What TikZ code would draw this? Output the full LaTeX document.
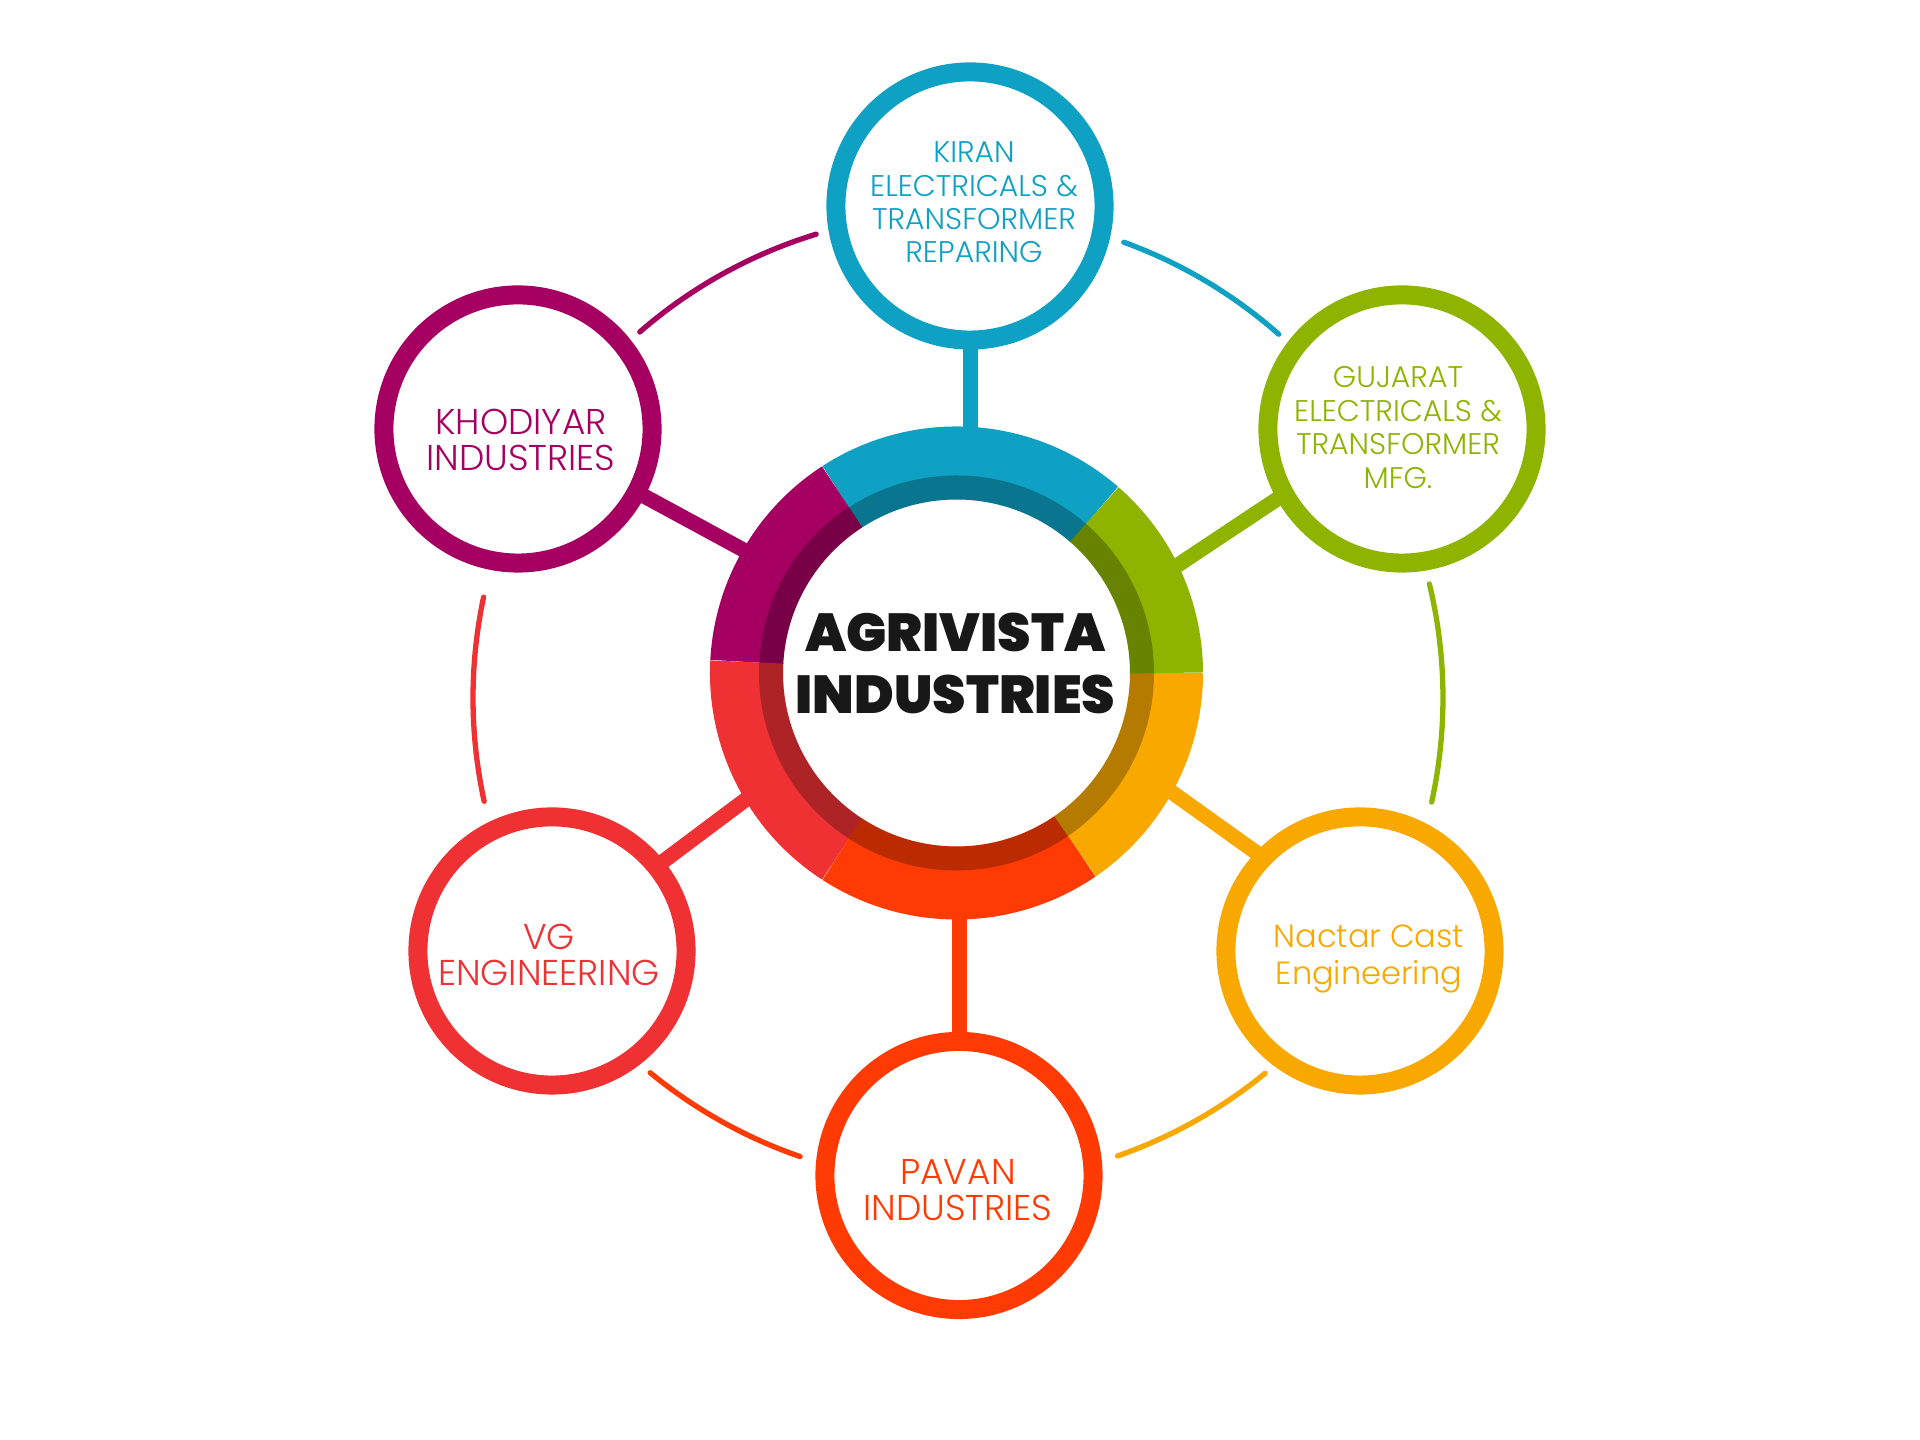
\documentclass[tikz,border=0pt]{standalone}
\usepackage{fontspec}
\usepackage{tikz}
\usetikzlibrary{positioning}
\newfontfamily\satfont{Poppins Light}
\newfontfamily\hubfont{Poppins Black}
\definecolor{kiranblue}{RGB}{14,161,196}
\definecolor{gujaratgreen}{RGB}{142,180,0}
\definecolor{nactarorange}{RGB}{249,168,0}
\definecolor{pavanred}{RGB}{255,59,3}
\definecolor{vgred}{RGB}{239,49,52}
\definecolor{khodiyarpurple}{RGB}{165,0,97}
\definecolor{hubink}{RGB}{24,24,24}

\begin{document}
\begin{tikzpicture}[x=0.01cm, y=0.01cm,
    sat/.style={circle, draw, fill=white, line width=0.19cm, minimum size=2.68cm, inner sep=0pt, outer sep=0pt},
    spoke/.style={line width=0.15cm, shorten >=-0.2cm, shorten <=-0.04cm},
    orbitline/.style={line width=0.053cm, line cap=round},
    seg/.style={line width=0.73cm},
    smalltxt/.style={font=\satfont\fontsize{8.5}{9.5}\selectfont, align=center, inner sep=0pt},
    bigtxt/.style={font=\satfont\fontsize{10.2}{10.45}\selectfont, align=center, inner sep=0pt},
    hubtxt/.style={font=\hubfont\fontsize{15.2}{17.6}\selectfont, align=center, inner sep=0pt, text=hubink}]
    \fill[white] (0,0) rectangle (1920,1440);

    \coordinate (orbit) at (958,742);
    \draw[orbitline, khodiyarpurple] (orbit) ++(107:485) arc[start angle=107, end angle=131, radius=485];
    \draw[orbitline, kiranblue] (orbit) ++(48.6:485) arc[start angle=48.6, end angle=70, radius=485];
    \draw[orbitline, gujaratgreen] (orbit) ++(-12.4:485) arc[start angle=-12.4, end angle=13.6, radius=485];
    \draw[orbitline, nactarorange] (orbit) ++(-70.8:485) arc[start angle=-70.8, end angle=-50.7, radius=485];
    \draw[orbitline, pavanred] (orbit) ++(-129.4:485) arc[start angle=-129.4, end angle=-109, radius=485];
    \draw[orbitline, vgred] (orbit) ++(168:485) arc[start angle=168, end angle=192.3, radius=485];

    \node[sat, draw=kiranblue] (kiran) at (970,1234) {};
    \node[sat, draw=gujaratgreen] (gujarat) at (1402,1011) {};
    \node[sat, draw=nactarorange] (nactar) at (1360,489) {};
    \node[sat, draw=pavanred] (pavan) at (959,264.5) {};
    \node[sat, draw=vgred] (vg) at (552,489) {};
    \node[sat, draw=khodiyarpurple] (khodiyar) at (518,1011) {};

    \node[circle, minimum size=4.93cm, inner sep=0pt, outer sep=0pt] (hub) at (956.5,767) {};

    \draw[spoke, kiranblue] (kiran.south) -- (kiran |- hub.north);
    \draw[spoke, gujaratgreen] (gujarat.209) -- (hub.26);
    \draw[spoke, nactarorange] (nactar.136) -- (hub.331);
    \draw[spoke, pavanred] (pavan.north) -- (pavan |- hub.south);
    \draw[spoke, vgred] (vg.39) -- (hub.211);
    \draw[spoke, khodiyarpurple] (khodiyar.332) -- (hub.150);

    \draw[seg, kiranblue] (hub.center) ++(49:210) arc[start angle=49, end angle=123, radius=210];
    \draw[seg, khodiyarpurple] (hub.center) ++(123:210) arc[start angle=123, end angle=177, radius=210];
    \draw[seg, vgred] (hub.center) ++(177:210) arc[start angle=177, end angle=237, radius=210];
    \draw[seg, pavanred] (hub.center) ++(237:210) arc[start angle=237, end angle=304.4, radius=210];
    \draw[seg, nactarorange] (hub.center) ++(304.4:210) arc[start angle=304.4, end angle=360, radius=210];
    \draw[seg, gujaratgreen] (hub.center) ++(0:210) arc[start angle=0, end angle=49, radius=210];
    \draw[line width=0.24cm, black, opacity=0.27] (hub.center) circle[radius=185.5];

    \node[hubtxt] (hubname) at (955.5,776.5) {AGRIVISTA\\INDUSTRIES};

    \node[smalltxt, text=kiranblue] (kirantext) at (974,1237.5) {KIRAN\\ELECTRICALS \&\\TRANSFORMER\\REPARING};
    \node[smalltxt, text=gujaratgreen] (gujarattext) at (1398,1012.5) {GUJARAT\\ELECTRICALS \&\\TRANSFORMER\\MFG.};
    \node[bigtxt, font=\satfont\fontsize{9.1}{10.45}\selectfont, text=nactarorange] (nactartext) at (1369,481) {Nactar Cast\\Engineering};
    \node[bigtxt, text=pavanred] (pavantext) at (958,250) {PAVAN\\INDUSTRIES};
    \node[bigtxt, text=vgred] (vgtext) at (549,485) {VG\\ENGINEERING};
    \node[bigtxt, text=khodiyarpurple] (khodiyartext) at (521,1000) {KHODIYAR\\INDUSTRIES};
\end{tikzpicture}
\end{document}
